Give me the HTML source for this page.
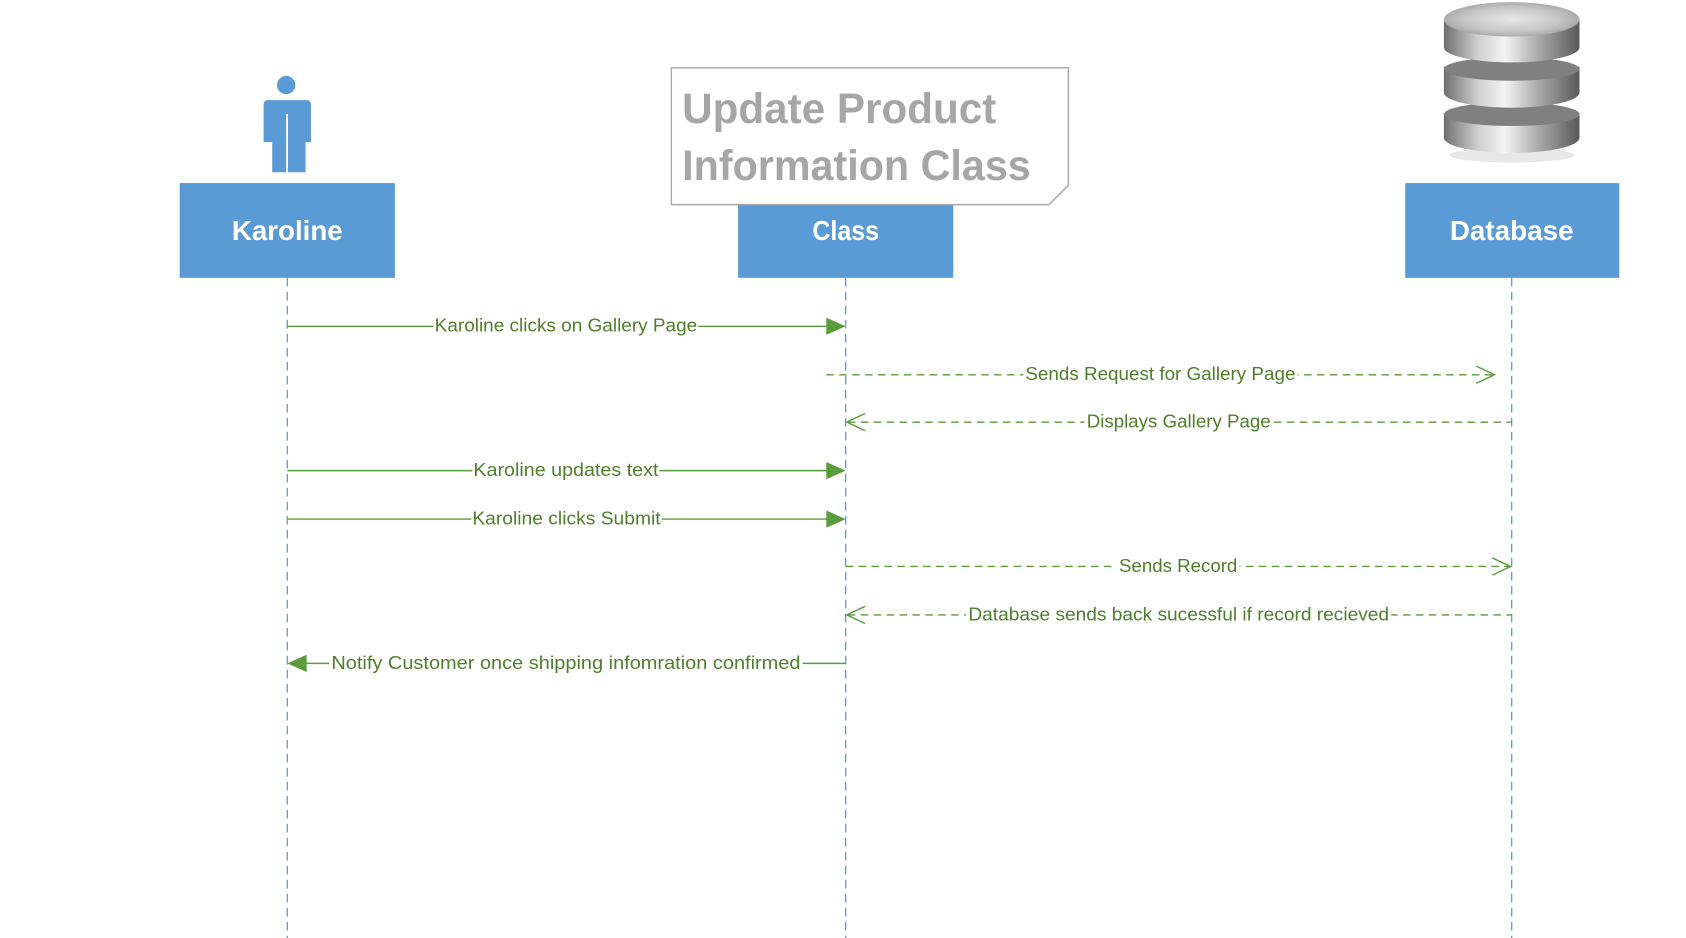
<!DOCTYPE html>
<html><head><meta charset="utf-8"><style>
html,body{margin:0;padding:0;background:#fff;}
svg{display:block;}
text{font-family:"Liberation Sans",sans-serif;}
</style></head><body>
<svg width="1686" height="938" viewBox="0 0 1567 871" preserveAspectRatio="none" xmlns="http://www.w3.org/2000/svg">
<defs>
<linearGradient id="cyl" x1="0" x2="1" y1="0" y2="0">
<stop offset="0" stop-color="#6e6e6e"/><stop offset="0.25" stop-color="#cfcfcf"/><stop offset="0.45" stop-color="#f4f4f4"/><stop offset="0.7" stop-color="#a8a8a8"/><stop offset="1" stop-color="#5a5a5a"/>
</linearGradient>
<radialGradient id="top" cx="0.5" cy="0.5" r="0.6">
<stop offset="0" stop-color="#e8e8e8"/><stop offset="0.6" stop-color="#c4c4c4"/><stop offset="1" stop-color="#9a9a9a"/>
</radialGradient>
</defs>
<g stroke="#5b9bd5" stroke-width="1.2" stroke-dasharray="8,5">
<line x1="267" y1="258" x2="267" y2="871"/>
<line x1="786" y1="258" x2="786" y2="871"/>
<line x1="1405" y1="258" x2="1405" y2="871"/>
</g>
<rect x="167" y="170" width="200" height="88" fill="#5b9bd5"/>
<rect x="686" y="170" width="200" height="88" fill="#5b9bd5"/>
<rect x="1306" y="170" width="199" height="88" fill="#5b9bd5"/>
<g fill="#fff" font-weight="bold" font-size="26" text-anchor="middle">
<text x="267" y="223" textLength="103" lengthAdjust="spacingAndGlyphs">Karoline</text>
<text x="786" y="223" textLength="62" lengthAdjust="spacingAndGlyphs">Class</text>
<text x="1405" y="223" textLength="115" lengthAdjust="spacingAndGlyphs">Database</text>
</g>
<polygon points="624,63 993,63 993,172 975,190 624,190" fill="#fff" stroke="#a6a6a6" stroke-width="1.3"/>
<g fill="#a6a6a6" font-weight="bold" font-size="40">
<text x="634" y="114" textLength="292" lengthAdjust="spacingAndGlyphs">Update Product</text>
<text x="634" y="167" textLength="324" lengthAdjust="spacingAndGlyphs">Information Class</text>
</g>
<g fill="#5b9bd5">
<circle cx="266" cy="79" r="8.5"/>
<path d="M249,93 H285 Q289,93 289,97 V132 H284 V160 H267.5 V106 H266 V160 H253 V132 H245 V97 Q245,93 249,93 Z"/>
</g>
<line x1="266.8" y1="106" x2="266.8" y2="160" stroke="#fff" stroke-width="1.5"/>
<g>
<ellipse cx="1405" cy="144" rx="58" ry="7" fill="#d8d8d8" opacity="0.6"/>
<path d="M1342,105 V128 A63,14 0 0 0 1468,128 V105 Z" fill="url(#cyl)"/>
<ellipse cx="1405" cy="106" rx="63" ry="11" fill="#808080"/>
<path d="M1342,62 V86 A63,14 0 0 0 1468,86 V62 Z" fill="url(#cyl)"/>
<ellipse cx="1405" cy="64" rx="63" ry="11" fill="#808080"/>
<path d="M1342,18 V44 A63,14 0 0 0 1468,44 V18 Z" fill="url(#cyl)"/>
<ellipse cx="1405" cy="18" rx="63" ry="16" fill="url(#top)"/>
</g>
<g stroke="#5a9b3c" stroke-width="1.3" fill="none">
<line x1="267" y1="303" x2="772" y2="303"/>
<line x1="768" y1="348" x2="1388" y2="348" stroke-dasharray="7,5"/>
<polyline points="1372,340 1389,348 1372,356"/>
<line x1="788" y1="392" x2="1405" y2="392" stroke-dasharray="7,5"/>
<polyline points="804,384 787,392 804,400"/>
<line x1="267" y1="437" x2="772" y2="437"/>
<line x1="267" y1="482" x2="772" y2="482"/>
<line x1="786" y1="526" x2="1404" y2="526" stroke-dasharray="7,5"/>
<polyline points="1387,518 1404,526 1387,534"/>
<line x1="788" y1="571" x2="1405" y2="571" stroke-dasharray="7,5"/>
<polyline points="804,563 787,571 804,579"/>
<line x1="282" y1="616" x2="786" y2="616"/>
</g>
<g fill="#5a9b3c">
<polygon points="768,295 786,303 768,311"/>
<polygon points="768,429 786,437 768,445"/>
<polygon points="768,474 786,482 768,490"/>
<polygon points="285,608 267,616 285,624"/>
</g>
<g fill="#4f7f2a" font-size="17">
<g fill="#fff">
<rect x="403" y="293" width="246" height="20"/>
<rect x="951" y="338" width="255" height="20"/>
<rect x="1008" y="382" width="175" height="20"/>
<rect x="439" y="427" width="174" height="20"/>
<rect x="438" y="472" width="177" height="20"/>
<rect x="1038" y="516" width="114" height="20"/>
<rect x="898" y="561" width="395" height="20"/>
<rect x="306" y="606" width="440" height="20"/>
</g>
<text x="404" y="308" textLength="244" lengthAdjust="spacingAndGlyphs">Karoline clicks on Gallery Page</text>
<text x="953" y="353" textLength="251" lengthAdjust="spacingAndGlyphs">Sends Request for Gallery Page</text>
<text x="1010" y="397" textLength="171" lengthAdjust="spacingAndGlyphs">Displays Gallery Page</text>
<text x="440" y="442" textLength="172" lengthAdjust="spacingAndGlyphs">Karoline updates text</text>
<text x="439" y="487" textLength="175" lengthAdjust="spacingAndGlyphs">Karoline clicks Submit</text>
<text x="1040" y="531" textLength="110" lengthAdjust="spacingAndGlyphs">Sends Record</text>
<text x="900" y="576" textLength="391" lengthAdjust="spacingAndGlyphs">Database sends back sucessful if record recieved</text>
<text x="308" y="621" textLength="436" lengthAdjust="spacingAndGlyphs">Notify Customer once shipping infomration confirmed</text>
</g>
</svg>
</body></html>
